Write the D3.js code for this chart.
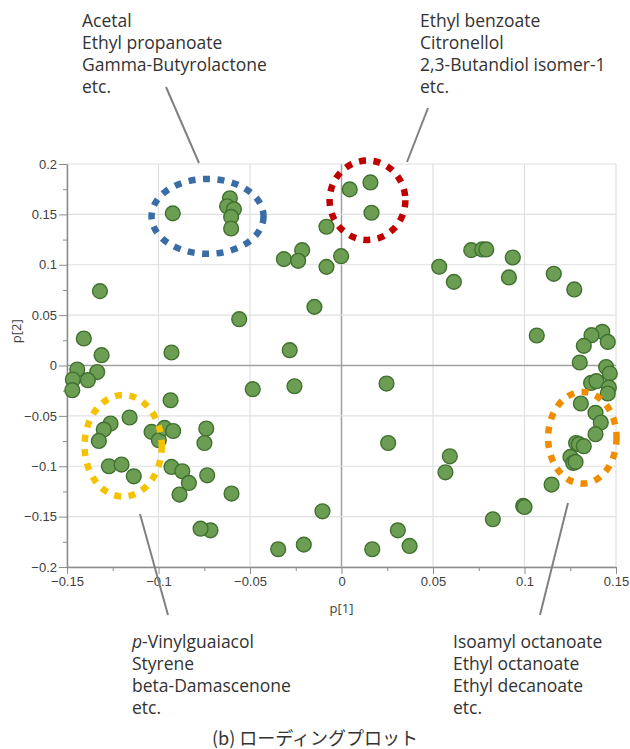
<!DOCTYPE html>
<html>
<head>
<meta charset="utf-8">
<script src="https://cdn.jsdelivr.net/npm/d3@7"></script>
<style>
	body { margin: 0; background: #fff; }
	svg { display: block; font-family: 'Open Sans', 'Noto Sans', sans-serif; }
	.axis text { font-size: 13px; fill: #404040; }
	.axis path, .axis line { stroke: #8c8c8c; }
	.note { font-size: 17.5px; fill: #333; }
</style>
</head>
<body>
<div id="chart"></div>
<script>
'use strict';

// loadings p[1] / p[2]
var p1 = [
	-0.0922, -0.0610, -0.0625, -0.0588, -0.0603, -0.0603, -0.1320, -0.1408, -0.1311, -0.0929,
	-0.0559, -0.1444, -0.1335, 0.0045, 0.0158, 0.0164, -0.0082, -0.0215, -0.0315, -0.0237,
	-0.0082, -0.0002, -0.0148, -0.0283, 0.0534, 0.0614, 0.0709, 0.0769, 0.0791, 0.0936,
	0.0915, 0.1160, 0.1272, 0.1067, 0.1425, 0.1366, 0.1455, 0.1324, 0.1302, 0.1446,
	0.1466, 0.1364, 0.1393, 0.1461, 0.1455, 0.1308, 0.1388, 0.1417, 0.1388, 0.1282,
	0.1297, 0.1324, 0.1251, 0.1266, 0.1279, 0.1148, 0.0993, 0.1000, 0.0827, 0.0592,
	0.0568, 0.0308, 0.0372, -0.0485, -0.0257, 0.0246, 0.0255, -0.0739, -0.0749, -0.0734,
	-0.0601, -0.0104, -0.0716, -0.0770, -0.0346, -0.0206, 0.0168, -0.1468, -0.1471, -0.1386,
	-0.0934, -0.1158, -0.1262, -0.1299, -0.1326, -0.1271, -0.1202, -0.1135, -0.1038, -0.0998,
	-0.0967, -0.0920, -0.0929, -0.0870, -0.0834, -0.0885
];
var p2 = [
	0.1510, 0.1660, 0.1580, 0.1550, 0.1475, 0.1360, 0.0738, 0.0268, 0.0102, 0.0129,
	0.0460, -0.0040, -0.0065, 0.1748, 0.1817, 0.1516, 0.1377, 0.1145, 0.1056, 0.1039,
	0.0979, 0.1085, 0.0582, 0.0152, 0.0980, 0.0830, 0.1145, 0.1152, 0.1152, 0.1072,
	0.0874, 0.0910, 0.0755, 0.0298, 0.0334, 0.0301, 0.0234, 0.0195, 0.0030, -0.0015,
	-0.0080, -0.0173, -0.0156, -0.0218, -0.0278, -0.0377, -0.0470, -0.0566, -0.0682, -0.0769,
	-0.0781, -0.0801, -0.0907, -0.0967, -0.0957, -0.1182, -0.1394, -0.1404, -0.1526, -0.0901,
	-0.1060, -0.1636, -0.1791, -0.0235, -0.0206, -0.0179, -0.0769, -0.0626, -0.0769, -0.1090,
	-0.1271, -0.1447, -0.1636, -0.1620, -0.1824, -0.1778, -0.1824, -0.0139, -0.0245, -0.0146,
	-0.0345, -0.0516, -0.0576, -0.0636, -0.0749, -0.1000, -0.0983, -0.1100, -0.0659, -0.0742,
	-0.0620, -0.0650, -0.1007, -0.1050, -0.1166, -0.1281
];

var xTicks = [-0.15, -0.1, -0.05, 0, 0.05, 0.1, 0.15];
var yTicks = [-0.2, -0.15, -0.1, -0.05, 0, 0.05, 0.1, 0.15, 0.2];

// circled groups with their compound lists
var groupNames = [
	['Acetal', 'Ethyl propanoate', 'Gamma-Butyrolactone', 'etc.'],
	['Ethyl benzoate', 'Citronellol', '2,3-Butandiol isomer-1', 'etc.'],
	['p-Vinylguaiacol', 'Styrene', 'beta-Damascenone', 'etc.'],
	['Isoamyl octanoate', 'Ethyl octanoate', 'Ethyl decanoate', 'etc.']
];
var groupCenter = [[-0.0732, 0.148], [0.0142, 0.164], [-0.1193, -0.0797], [0.1316, -0.0717]];
var groupRadius = [[0.0306, 0.0372], [0.0207, 0.0394], [0.0211, 0.0504], [0.0187, 0.0455]];
var groupColor = ['#3a6da5', '#c00000', '#f5c200', '#f08c00'];

var margin = {top: 164, right: 14, bottom: 182, left: 67};
var W = 630, H = 749;
var width = W - margin.left - margin.right;
var height = H - margin.top - margin.bottom;

var svg = d3.select('#chart').append('svg')
	.attr('width', W)
	.attr('height', H);

var g = svg.append('g')
	.attr('transform', 'translate(' + margin.left + ',' + margin.top + ')');

var x = d3.scaleLinear().domain([-0.15, 0.15]).range([0, width]);
var y = d3.scaleLinear().domain([-0.2, 0.2]).range([height, 0]);

var fmt = function(d){ return d === 0 ? '0' : d3.format('')(+d.toFixed(2)); };

// grid
g.append('g').selectAll('line').data(xTicks).enter().append('line')
	.attr('x1', function(d){ return x(d); }).attr('x2', function(d){ return x(d); })
	.attr('y1', 0).attr('y2', height)
	.style('stroke', function(d){ return d === 0 ? '#a0a0a0' : '#e0e0e0'; })
	.style('stroke-width', function(d){ return d === 0 ? 1.5 : 1.2; });

g.append('g').selectAll('line').data(yTicks).enter().append('line')
	.attr('y1', function(d){ return y(d); }).attr('y2', function(d){ return y(d); })
	.attr('x1', 0).attr('x2', width)
	.style('stroke', function(d){ return d === 0 ? '#a0a0a0' : '#e0e0e0'; })
	.style('stroke-width', function(d){ return d === 0 ? 1.5 : 1.2; });

// minor ticks
var xMinor = d3.range(-0.125, 0.15, 0.05);
var yMinor = d3.range(-0.175, 0.2, 0.05);

g.append('g').attr('class', 'axis')
	.attr('transform', 'translate(0,' + height + ')')
	.call(d3.axisBottom(x).tickValues(xMinor).tickSize(4).tickFormat(''))
	.select('.domain').remove();

g.append('g').attr('class', 'axis')
	.call(d3.axisLeft(y).tickValues(yMinor).tickSize(4).tickFormat(''))
	.select('.domain').remove();

var xAxis = g.append('g').attr('class', 'axis')
	.attr('transform', 'translate(0,' + height + ')')
	.call(d3.axisBottom(x).tickValues(xTicks).tickSize(7).tickSizeOuter(0).tickPadding(3).tickFormat(fmt));
xAxis.select('.domain').style('stroke-width', 1.5);

var yAxis = g.append('g').attr('class', 'axis')
	.call(d3.axisLeft(y).tickValues(yTicks).tickSize(8).tickSizeOuter(0).tickPadding(2).tickFormat(fmt));
yAxis.select('.domain').style('stroke-width', 1.5);

g.append('text')
	.attr('x', x(0)).attr('y', height + 46)
	.attr('text-anchor', 'middle')
	.style('font-size', '13px').style('fill', '#404040')
	.text('p[1]');

g.append('text')
	.attr('transform', 'translate(' + (16 - margin.left) + ',' + (y(0.034)) + ') rotate(-90)')
	.attr('text-anchor', 'middle')
	.attr('dy', '0.35em')
	.style('font-size', '13px').style('fill', '#404040')
	.text('p[2]');

// points
g.append('g').selectAll('circle').data(d3.range(p1.length)).enter().append('circle')
	.attr('cx', function(i){ return x(p1[i]); })
	.attr('cy', function(i){ return y(p2[i]); })
	.attr('r', 7.4)
	.style('fill', '#6b9e52')
	.style('stroke', '#40702f')
	.style('stroke-width', 1.4);

// dotted rings
g.append('g').selectAll('ellipse').data(groupCenter).enter().append('ellipse')
	.attr('cx', function(d){ return x(d[0]); })
	.attr('cy', function(d){ return y(d[1]); })
	.attr('rx', function(d, i){ return x(groupRadius[i][0]) - x(0); })
	.attr('ry', function(d, i){ return y(0) - y(groupRadius[i][1]); })
	.style('fill', 'none')
	.style('stroke', function(d, i){ return groupColor[i]; })
	.style('stroke-width', 6.5)
	.style('stroke-dasharray', '7,7.5');

// leader lines (page coords)
var leaders = [[166, 87, 199, 163], [428, 108, 407, 162], [140, 514, 168, 615], [568, 503, 540, 615]];
svg.append('g').selectAll('line').data(leaders).enter().append('line')
	.attr('x1', function(d){ return d[0]; }).attr('y1', function(d){ return d[1]; })
	.attr('x2', function(d){ return d[2]; }).attr('y2', function(d){ return d[3]; })
	.style('stroke', '#808080')
	.style('stroke-width', 2);

var notePos = [[82, 27], [420, 27], [132, 648], [453, 648]];
groupNames.forEach(function(lines, k){
	var t = svg.append('text').attr('class', 'note')
		.attr('x', notePos[k][0]).attr('y', notePos[k][1]);
	lines.forEach(function(s, j){
		var ts = t.append('tspan').attr('x', notePos[k][0]).attr('dy', j === 0 ? 0 : 22);
		if (s.indexOf('p-') === 0) {
			ts.append('tspan').style('font-style', 'italic').text('p');
			ts.append('tspan').text(s.slice(1));
		} else {
			ts.text(s);
		}
	});
});

svg.append('text')
	.attr('x', 315).attr('y', 745)
	.attr('text-anchor', 'middle')
	.style('font-family', "'Noto Sans CJK JP', 'Noto Sans', sans-serif")
	.style('font-size', '18px').style('fill', '#333')
	.text('(b) ローディングプロット');
</script>
</body>
</html>
